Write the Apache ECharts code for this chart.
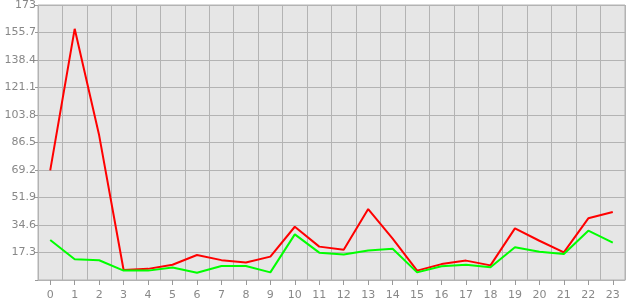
<!DOCTYPE html>
<html>
<head>
<meta charset="utf-8">
<script src="https://cdn.jsdelivr.net/npm/echarts@6/dist/echarts.min.js"></script>
<style>html,body{margin:0;padding:0;background:#fff}#c{width:630px;height:300px}</style>
</head>
<body>
<div id="c"></div>
<script>
var categories = ['0','1','2','3','4','5','6','7','8','9','10','11','12','13','14','15','16','17','18','19','20','21','22','23'];
var redValues = [69, 158, 91, 6.3, 7, 9.6, 15.7, 12.5, 11, 14.7, 33.5, 21, 19, 44.6, 26, 5.9, 10, 12.2, 9.2, 32.5, 24.7, 17.4, 38.8, 42.8];
var greenValues = [25.2, 13, 12.4, 5.9, 5.9, 7.8, 4.6, 8.8, 8.8, 4.8, 28.7, 17.2, 16.1, 18.6, 19.7, 4.8, 8.6, 9.6, 8, 20.6, 17.8, 16.4, 31, 23.5];
var yTickLabels = ['0','17.3','34.6','51.9','69.2','86.5','103.8','121.1','138.4','155.7','173'];
var yMax = 173, yStep = 17.3;

var chart = echarts.init(document.getElementById('c'), null, {renderer: 'canvas'});
chart.setOption({
  animation: false,
  backgroundColor: '#ffffff',
  grid: {left: 38, right: 5, top: 5, bottom: 20, outerBoundsMode: 'none', containLabel: false, show: true, backgroundColor: '#e6e6e6', borderColor: '#b3b3b3', borderWidth: 1},
  xAxis: {
    type: 'category',
    data: categories,
    boundaryGap: true,
    axisLine: {show: true, lineStyle: {color: '#b3b3b3', width: 1}},
    axisTick: {show: true, alignWithLabel: true, length: 5, lineStyle: {color: '#999'}},
    axisLabel: {color: '#888', fontFamily: 'DejaVu Sans', fontSize: 11, margin: 10},
    splitLine: {show: true, lineStyle: {color: '#b3b3b3', width: 1}}
  },
  yAxis: {
    type: 'value',
    min: 0, max: yMax, interval: yStep,
    axisLine: {show: false},
    axisTick: {show: true, length: 3, lineStyle: {color: '#999'}},
    axisLabel: {
      color: '#888', fontFamily: 'DejaVu Sans', fontSize: 11, margin: 2,
      formatter: function (v) {
        var i = Math.round(v / yStep);
        return i === 0 ? '' : yTickLabels[i];
      }
    },
    splitLine: {show: true, lineStyle: {color: '#b3b3b3', width: 1}}
  },
  series: [
    {type: 'line', data: redValues, symbol: 'none', lineStyle: {color: '#ff0000', width: 2}, itemStyle: {color: '#ff0000'}, z: 3},
    {type: 'line', data: greenValues, symbol: 'none', lineStyle: {color: '#00ff00', width: 2}, itemStyle: {color: '#00ff00'}, z: 4}
  ]
});
</script>
</body>
</html>
